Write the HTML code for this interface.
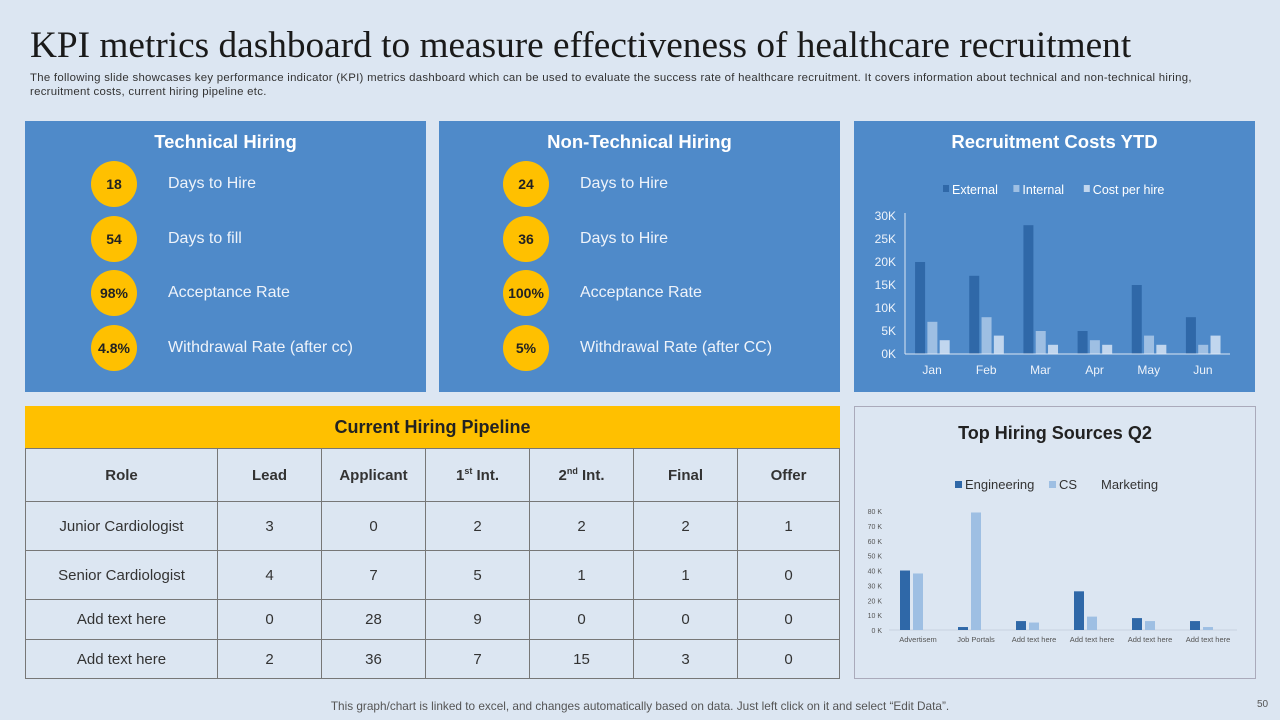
<!DOCTYPE html>
<html><head><meta charset="utf-8"><style>
*{margin:0;padding:0;box-sizing:border-box}
body{width:1280px;height:720px;background:#dce6f2;font-family:"Liberation Sans",sans-serif;position:relative;overflow:hidden}
.abs{position:absolute}
h1{position:absolute;left:30px;top:24px;font-family:"Liberation Serif",serif;font-weight:normal;font-size:37.3px;color:#1a1a1a;white-space:nowrap}
.sub{left:30px;top:72px;font-size:11.4px;letter-spacing:0.28px;color:#333;width:1250px;line-height:13.5px;white-space:nowrap}
.panel{position:absolute;background:#4f8ac9;top:121px;height:271px;width:401px}
.ptitle{position:absolute;top:10px;width:100%;text-align:center;color:#fff;font-weight:bold;font-size:18.5px}
.circ{position:absolute;width:46px;height:46px;border-radius:50%;background:#ffc000;color:#222;font-weight:bold;font-size:14px;display:flex;align-items:center;justify-content:center}
.lbl{position:absolute;color:#eef3fa;font-size:16px}
table{position:absolute;left:25px;top:448px;width:815px;border-collapse:collapse;font-size:15px;color:#333}
td{border:1px solid #777;text-align:center}
</style></head><body>
<h1>KPI metrics dashboard to measure effectiveness of healthcare recruitment</h1>
<div class="abs sub">The following slide showcases key performance indicator (KPI) metrics dashboard which can be used to evaluate the success rate of healthcare recruitment. It covers information about technical and non-technical hiring,<br>recruitment costs, current hiring pipeline etc.</div>

<div class="panel" style="left:25px">
<div class="ptitle">Technical Hiring</div>
<div class="circ" style="left:66px;top:40px">18</div><div class="lbl" style="left:143px;top:54px">Days to Hire</div>
<div class="circ" style="left:66px;top:95px">54</div><div class="lbl" style="left:143px;top:109px">Days to fill</div>
<div class="circ" style="left:66px;top:149px">98%</div><div class="lbl" style="left:143px;top:163px">Acceptance Rate</div>
<div class="circ" style="left:66px;top:204px">4.8%</div><div class="lbl" style="left:143px;top:218px">Withdrawal Rate (after cc)</div>
</div>
<div class="panel" style="left:439px">
<div class="ptitle">Non-Technical Hiring</div>
<div class="circ" style="left:64px;top:40px">24</div><div class="lbl" style="left:141px;top:54px">Days to Hire</div>
<div class="circ" style="left:64px;top:95px">36</div><div class="lbl" style="left:141px;top:109px">Days to Hire</div>
<div class="circ" style="left:64px;top:149px">100%</div><div class="lbl" style="left:141px;top:163px">Acceptance Rate</div>
<div class="circ" style="left:64px;top:204px">5%</div><div class="lbl" style="left:141px;top:218px">Withdrawal Rate (after CC)</div>
</div>
<div class="panel" style="left:854px">
<div class="ptitle">Recruitment Costs YTD</div>
</div>
<svg class="abs" style="left:0;top:0" width="1280" height="720" id="c1"></svg>

<div class="abs" style="left:25px;top:406px;width:815px;height:42px;background:#ffc000;text-align:center;font-weight:bold;font-size:18px;line-height:42px;color:#222">Current Hiring Pipeline</div>
<table>
<tr style="height:53px;font-weight:bold"><td style="width:192px">Role</td><td style="width:104px">Lead</td><td style="width:104px">Applicant</td><td style="width:104px">1<sup style="font-size:9px">st</sup> Int.</td><td style="width:104px">2<sup style="font-size:9px">nd</sup> Int.</td><td style="width:104px">Final</td><td>Offer</td></tr>
<tr style="height:49px"><td>Junior Cardiologist</td><td>3</td><td>0</td><td>2</td><td>2</td><td>2</td><td>1</td></tr>
<tr style="height:49px"><td>Senior Cardiologist</td><td>4</td><td>7</td><td>5</td><td>1</td><td>1</td><td>0</td></tr>
<tr style="height:40px"><td>Add text here</td><td>0</td><td>28</td><td>9</td><td>0</td><td>0</td><td>0</td></tr>
<tr style="height:39px"><td>Add text here</td><td>2</td><td>36</td><td>7</td><td>15</td><td>3</td><td>0</td></tr>
</table>

<div class="abs" style="left:854px;top:406px;width:402px;height:273px;border:1px solid #aab;background:#dce6f2">
<div style="position:absolute;top:16px;width:100%;text-align:center;font-weight:bold;font-size:18px;color:#222">Top Hiring Sources Q2</div>
</div>
<svg class="abs" style="left:0;top:0" width="1280" height="720" id="c2"></svg>

<div class="abs" style="left:0;width:1280px;top:699px;text-align:center;font-size:11.8px;color:#555">This graph/chart is linked to excel, and changes automatically based on data. Just left click on it and select “Edit Data”.</div>
<div class="abs" style="left:1257px;top:699px;font-size:10px;color:#555">50</div>

<script>
const months=["Jan","Feb","Mar","Apr","May","Jun"];
const external=[20,17,28,5,15,8];
const internal=[7,8,5,3,4,2];
const costPerHire=[3,4,2,2,2,4];
const yTicks1=[0,5,10,15,20,25,30];

const sources=["Advertisem","Job Portals","Add text here","Add text here","Add text here","Add text here"];
const engineering=[40,2,6,26,8,6];
const cs=[38,79,5,9,6,2];
const marketing=[0,0,0,0,0,0];
const yTicks2=[0,10,20,30,40,50,60,70,80];

const NS="http://www.w3.org/2000/svg";
function mk(svg,tag,attrs,txt){const e=document.createElementNS(NS,tag);for(const k in attrs)e.setAttribute(k,attrs[k]);if(txt!==undefined)e.textContent=txt;svg.appendChild(e);return e;}

// chart 1
(function(){
const s=document.getElementById('c1');
const x0=905,x1=1230,y0=354,y1=216,gw=(x1-x0)/months.length;
const y=v=>y0-(v/30)*(y0-y1);
yTicks1.forEach(t=>{const e=mk(s,'text',{x:896,y:y(t)+4,'text-anchor':'end','font-size':12,fill:'#eef3fa','font-family':'Liberation Sans'},t+'K');

});
const series=[[external,'#2f68a8','External'],[internal,'#9ebfe3','Internal'],[costPerHire,'#c1d6ee','Cost per hire']];
months.forEach((m,i)=>{const cx=x0+gw*(i+0.5);
series.forEach((sr,j)=>{const v=sr[0][i];const r=mk(s,'rect',{x:cx-17+j*12.3,y:y(v),width:10,height:y0-y(v),fill:sr[1]});

});
const t=mk(s,'text',{x:cx,y:374,'text-anchor':'middle','font-size':12,fill:'#eef3fa','font-family':'Liberation Sans'},m);

});
mk(s,'line',{x1:x0,y1:y0,x2:x1,y2:y0,stroke:'#dbe6f4','stroke-width':1});
mk(s,'line',{x1:x0,y1:y0,x2:x0,y2:y1-3,stroke:'#dbe6f4','stroke-width':1});
let lx=943;series.forEach(sr=>{const r=mk(s,'rect',{x:lx,y:185,width:6,height:7,fill:sr[1]});


const t=mk(s,'text',{x:lx+9,y:194,'font-size':12.5,fill:'#fff','font-family':'Liberation Sans'},sr[2]);


lx+=sr[2].length*6.8+16;});
})();

// chart 2
(function(){
const s=document.getElementById('c2');
const x0=889,x1=1237,y0=630,y1=511,gw=(x1-x0)/sources.length;
const y=v=>y0-(v/80)*(y0-y1);
yTicks2.forEach(t=>{const e=mk(s,'text',{x:882,y:y(t)+3,'text-anchor':'end','font-size':7,fill:'#555','font-family':'Liberation Sans'},t+' K');

});
mk(s,'line',{x1:x0,y1:y0,x2:x1,y2:y0,stroke:'#c8d3e0','stroke-width':1});
const series=[[engineering,'#2f68a8','Engineering'],[cs,'#9ebfe3','CS'],[marketing,'#dce6f2','Marketing']];
sources.forEach((c,i)=>{const cx=x0+gw*(i+0.5);
series.forEach((sr,j)=>{const v=sr[0][i];const r=mk(s,'rect',{x:cx-18+j*13,y:y(v),width:10,height:y0-y(v),fill:sr[1]});

});
const t=mk(s,'text',{x:cx,y:642,'text-anchor':'middle','font-size':7.5,fill:'#555','font-family':'Liberation Sans'},c);

});
const lg=[[955,'#2f68a8','Engineering'],[1049,'#9ebfe3','CS'],[1091,'none','Marketing']];
lg.forEach(l=>{if(l[1]!=='none'){const r=mk(s,'rect',{x:l[0],y:481,width:7,height:7,fill:l[1]});

}
const t=mk(s,'text',{x:l[0]+10,y:489,'font-size':13,fill:'#333','font-family':'Liberation Sans'},l[2]);

});
})();
</script>
</body></html>
